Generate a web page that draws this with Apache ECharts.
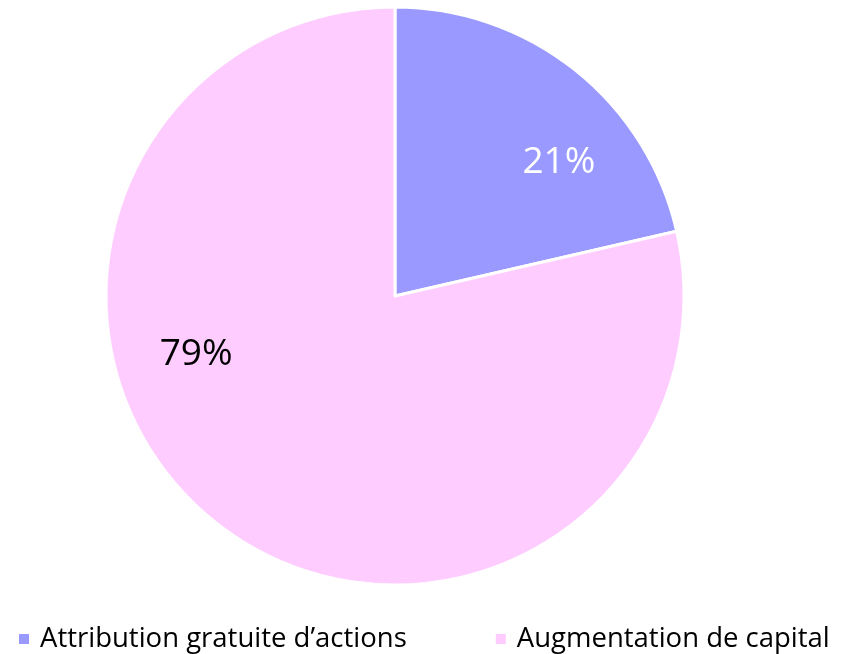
<!DOCTYPE html>
<html>
<head>
<meta charset="utf-8">
<script src="https://cdn.jsdelivr.net/npm/echarts@6/dist/echarts.min.js"></script>
<style>
  html, body { margin: 0; padding: 0; background: #fff; }
  #main { width: 842px; height: 654px; }
</style>
</head>
<body>
<div id="main"></div>
<script>
var categories = ['Attribution gratuite d\u2019actions', 'Augmentation de capital'];
var values = [21.4, 78.6];
var colors = ['#9999FF', '#FFCCFF'];
var labelColors = ['#FFFFFF', '#000000'];
// label shift from the slice centre (Excel puts them further out)
var labelShift = [[72, -18], [-107, -57]];

var chart = echarts.init(document.getElementById('main'));
var data = [];
for (var i = 0; i < categories.length; i++) {
  data.push({
    name: categories[i],
    value: values[i],
    itemStyle: { color: colors[i] },
    label: { color: labelColors[i] }
  });
}

chart.setOption({
  animation: false,
  legend: {
    left: 17,
    top: 625,
    width: 825,
    padding: 0,
    icon: 'rect',
    itemWidth: 12,
    itemHeight: 12,
    itemGap: 87,
    data: categories,
    textStyle: { fontFamily: 'Open Sans', fontSize: 27.5, color: '#000', padding: [0, 0, 0, 5] }
  },
  series: [{
    type: 'pie',
    center: [395, 296],
    radius: 289,
    startAngle: 90,
    clockwise: true,
    itemStyle: { borderColor: '#fff', borderWidth: 3 },
    label: {
      show: true,
      position: 'inside',
      fontFamily: 'Open Sans',
      fontSize: 37,
      formatter: function (p) { return Math.round(p.percent) + '%'; }
    },
    labelLayout: function (p) {
      return { dx: labelShift[p.dataIndex][0], dy: labelShift[p.dataIndex][1] };
    },
    emphasis: { disabled: true },
    data: data
  }]
});
</script>
</body>
</html>
